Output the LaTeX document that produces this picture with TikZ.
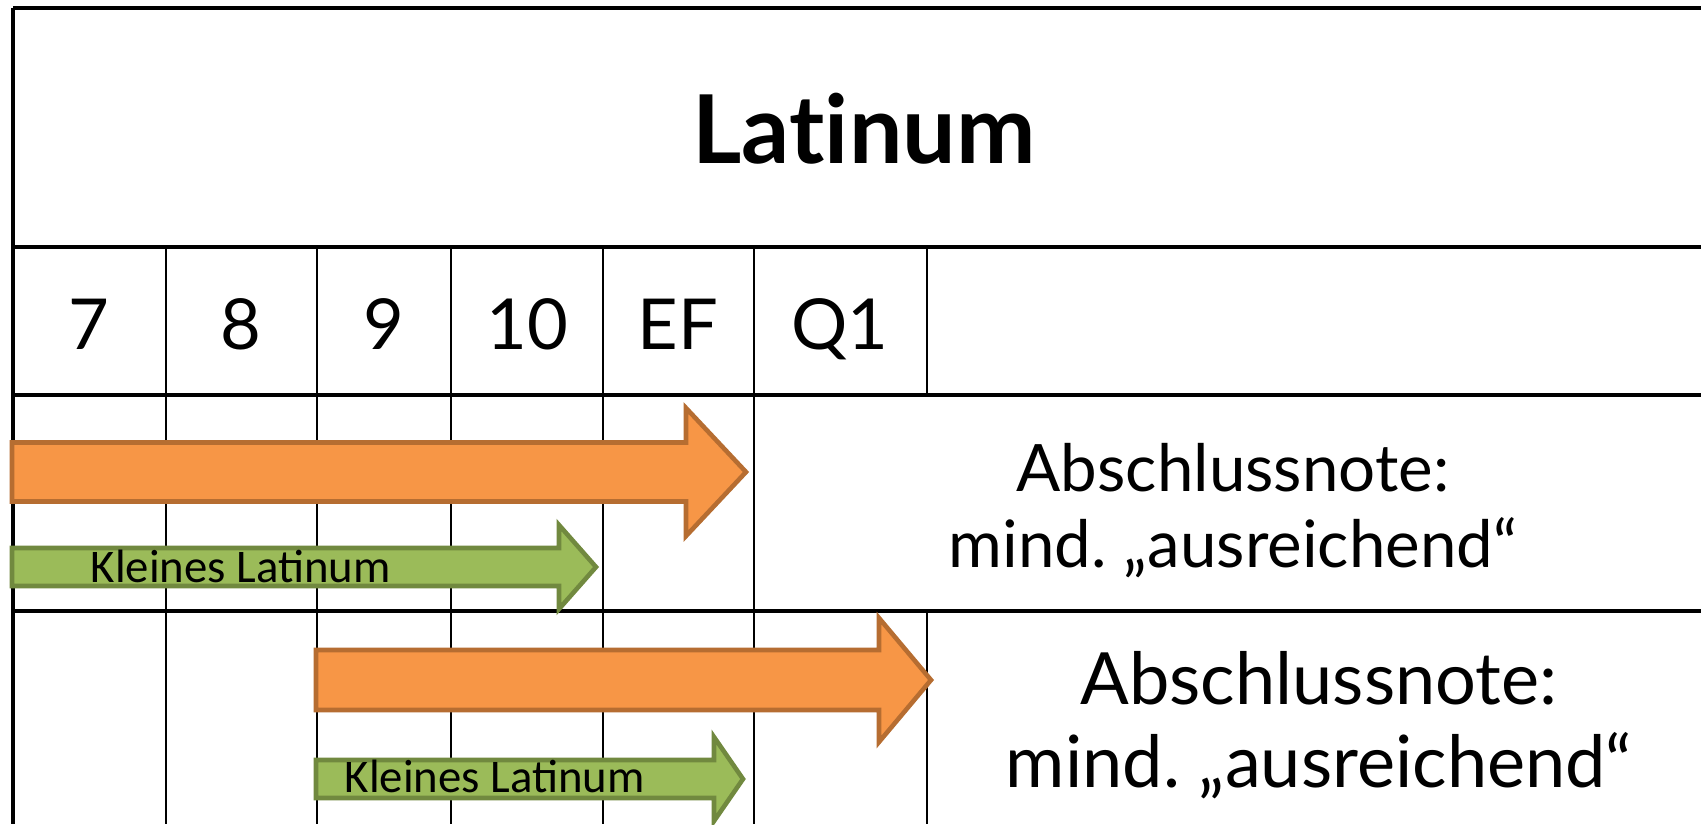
\documentclass[tikz,border=0pt]{standalone}
\usepackage{fontspec}
\setmainfont{Lato}[RawFeature={-liga;-dlig;-clig}]
\newfontfamily\calibrifont{Carlito}
\usepackage{tikz}
\usetikzlibrary{calc}
\usepackage{color}
\definecolor{orangefill}{HTML}{F79646}
\definecolor{orangeline}{HTML}{B66D31}
\definecolor{greenfill}{HTML}{9BBB59}
\definecolor{greenline}{HTML}{71893F}
\tikzset{
	gridline/.style={line width=0.6pt},
	rowline/.style={line width=0.9pt},
	longarrow/.style={fill=orangefill, draw=orangeline, line width=1.3pt, line join=miter},
	shortarrow/.style={fill=greenfill, draw=greenline, line width=1.3pt, line join=miter},
	yearlabel/.style={anchor=base, font=\fontsize{20}{24}\selectfont},
	arrowlabel/.style={anchor=base west, inner sep=0pt, font=\calibrifont\fontsize{13.3}{16}\selectfont}
}
\newcommand{\blockarrow}[7] % start x, head x, tip x, mid y, shaft half, head half, style
{
	\draw[#7] (#1,#4-#5) -- (#2,#4-#5) -- (#2,#4-#6) -- (#3,#4)
		-- (#2,#4+#6) -- (#2,#4+#5) -- (#1,#4+#5) -- cycle;
}
\newcommand{\colline}[3] % x, top y, bottom y
{
	\draw[gridline] (#1,#2) -- (#1,#3);
}
\begin{document}
\begin{tikzpicture}[x=0.01cm, y=-0.01cm]
	% page: 1701 x 824 px, 1px = 0.1mm
	\useasboundingbox (0,0) rectangle (1701,824);
	% table frame
	\draw[rowline] (13,8) -- (1701,8);
	\draw[rowline] (13,8) -- (13,824);
	\draw[rowline] (13,247) -- (1701,247);
	\draw[rowline] (13,395) -- (1701,395);
	\draw[rowline] (13,611) -- (1701,611);
	% year columns
	\colline{166}{247}{824};
	\colline{317}{247}{824};
	\colline{451}{247}{824};
	\colline{603}{247}{824};
	\colline{754}{247}{824};
	\colline{927}{247}{395};
	\colline{927}{611}{824};

	% header
	\node[anchor=base, font=\bfseries\fontsize{27}{32}\selectfont] (title) at (864,163) {Latinum};
	\node[yearlabel] (y7) at (89,349) {7};
	\node[yearlabel] (y8) at (241,349) {8};
	\node[yearlabel] (y9) at (384,349) {9};
	\node[yearlabel] (y10) at (527,349) {10};
	\node[yearlabel] (yEF) at (678,349) {EF};
	\node[yearlabel] (yQ1) at (840,349) {Q1};

	% first row: from class 7
	\blockarrow{12}{686}{746}{472}{29.5}{64}{longarrow};
	\blockarrow{12}{559}{596}{567}{19}{42}{shortarrow};
	\node[arrowlabel] (klein1) at (90,582) {Kleines Latinum};
	% anchor=base sits on the last line
	\node[anchor=base, align=center, font=\fontsize{18.6}{21.5}\selectfont] (note1) at (1233,567)
		{Abschlussnote:\\mind.\ „ausreichend“};

	% second row: from class 9
	\blockarrow{316}{879}{931}{680}{30}{62}{longarrow};
	\blockarrow{316}{714}{743}{779}{19}{42}{shortarrow};
	\node[arrowlabel] (klein2) at (344,792) {Kleines Latinum};
	\node[anchor=base, align=center, font=\fontsize{20.5}{23.5}\selectfont] (note2) at (1319,787)
		{Abschlussnote:\\mind.\ „ausreichend“};
\end{tikzpicture}
\end{document}
